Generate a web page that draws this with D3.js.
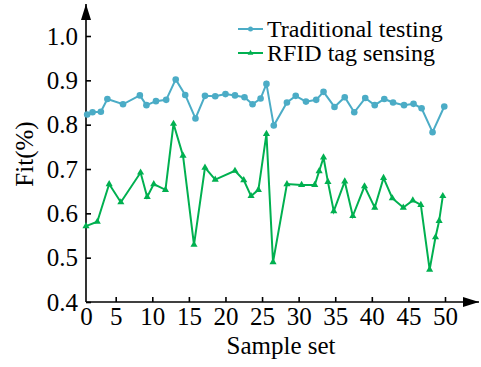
<!DOCTYPE html>
<html>
<head>
<meta charset="utf-8">
<script src="https://cdn.jsdelivr.net/npm/d3@7"></script>
<style>
    body { margin: 0; background: #fff; }
    .axis line { stroke: #000; stroke-width: 1.6; }
</style>
</head>
<body>
<svg id="chart" width="481" height="367"></svg>
<script>
// sample positions and fit values
let tradX = [0.2, 1.1, 2.5, 3.6, 6.0, 8.3, 9.2, 10.5, 11.9, 13.2, 14.5, 15.9, 17.2, 18.6, 20.0, 21.3, 22.6,
    23.7, 24.8, 25.6, 26.6, 28.4, 29.6, 31.0, 32.4, 33.4, 34.9, 36.3, 37.6, 39.1, 40.4, 41.7, 42.9, 44.4,
    45.7, 46.8, 48.3, 49.9]
let tradY = [0.823, 0.828, 0.829, 0.858, 0.846, 0.866, 0.844, 0.853, 0.856, 0.902, 0.867, 0.814, 0.865,
    0.864, 0.869, 0.866, 0.862, 0.846, 0.859, 0.892, 0.798, 0.850, 0.865, 0.852, 0.856, 0.874, 0.840,
    0.862, 0.828, 0.860, 0.844, 0.858, 0.850, 0.844, 0.847, 0.837, 0.783, 0.841]

let rfidX = [0, 1.9, 3.9, 5.7, 8.4, 9.3, 10.2, 11.8, 12.9, 14.2, 15.7, 17.2, 18.6, 21.3, 22.5, 23.5, 24.5,
    25.6, 26.5, 28.4, 30.4, 32.2, 32.8, 33.4, 34.0, 34.8, 36.3, 37.4, 39.0, 40.4, 41.6, 42.8, 44.3,
    45.6, 46.7, 47.9, 48.7, 49.2, 49.7]
let rfidY = [0.571, 0.581, 0.666, 0.625, 0.692, 0.637, 0.666, 0.653, 0.802, 0.730, 0.529, 0.703, 0.676,
    0.696, 0.675, 0.639, 0.653, 0.779, 0.490, 0.666, 0.664, 0.664, 0.695, 0.726, 0.671, 0.605, 0.672,
    0.594, 0.661, 0.613, 0.680, 0.634, 0.613, 0.629, 0.619, 0.473, 0.546, 0.583, 0.639]

let xTicks = [0, 5, 10, 15, 20, 25, 30, 35, 40, 45, 50]
let yTicks = [0.4, 0.5, 0.6, 0.7, 0.8, 0.9, 1.0]
let seriesNames = ["Traditional testing", "RFID tag sensing"]

let blue = "#4bacc6"
let green = "#00b050"
let serif = "'Liberation Serif', 'Times New Roman', Times, serif"

let svg = d3.select("#chart")

// the first gap (0-5) is narrower than the others in the original
let x = d3.scaleLinear().domain([0, 5, 50]).range([86, 115.7, 445])
let y = d3.scaleLinear().domain([0.4, 1.0]).range([302, 36])

svg.append("defs").append("marker")
    .attr("id", "arrow")
    .attr("viewBox", "0 0 10 10")
    .attr("refX", 10).attr("refY", 5)
    .attr("markerWidth", 16).attr("markerHeight", 10)
    .attr("markerUnits", "userSpaceOnUse")
    .attr("orient", "auto")
    .attr("preserveAspectRatio", "none")
    .append("path")
    .attr("d", "M0,0 L10,5 L0,10 Z")
    .attr("fill", "#000")

// y axis
let yAxis = svg.append("g")
    .attr("class", "axis")
    .attr("transform", `translate(${x(0)},0)`)
    .call(d3.axisLeft(y).tickValues(yTicks).tickFormat(d3.format(".1f"))
        .tickSize(-5).tickSizeOuter(0).tickPadding(8))
yAxis.select(".domain").remove()
yAxis.selectAll("text")
    .style("font-family", serif).style("font-size", "25px").attr("fill", "#000")

// x axis
let xAxis = svg.append("g")
    .attr("class", "axis")
    .attr("transform", `translate(0,${y(0.4)})`)
    .call(d3.axisBottom(x).tickValues(xTicks)
        .tickSize(-5).tickSizeOuter(0).tickPadding(5))
xAxis.select(".domain").remove()
xAxis.selectAll("text")
    .style("font-family", serif).style("font-size", "25px").attr("fill", "#000")
xAxis.selectAll(".tick").filter(d => d === 0).select("line").remove()

// axis lines with arrow heads
svg.append("line")
    .attr("x1", x(0)).attr("y1", y(0.4))
    .attr("x2", x(0)).attr("y2", 4)
    .attr("stroke", "#000").attr("stroke-width", 1.6)
    .attr("marker-end", "url(#arrow)")
svg.append("line")
    .attr("x1", x(0)).attr("y1", y(0.4))
    .attr("x2", 479).attr("y2", y(0.4))
    .attr("stroke", "#000").attr("stroke-width", 1.6)
    .attr("marker-end", "url(#arrow)")

// axis titles
svg.append("text")
    .attr("x", 281).attr("y", 354)
    .attr("text-anchor", "middle")
    .style("font-family", serif).style("font-size", "25px")
    .text("Sample set")

svg.append("text")
    .attr("transform", "translate(33,154) rotate(-90)")
    .attr("text-anchor", "middle")
    .style("font-family", serif).style("font-size", "25px")
    .text("Fit(%)")

let line = d3.line().x(d => x(d[0])).y(d => y(d[1]))
let tradData = d3.zip(tradX, tradY)
let rfidData = d3.zip(rfidX, rfidY)

// traditional testing
svg.append("path")
    .datum(tradData)
    .attr("d", line)
    .attr("fill", "none")
    .attr("stroke", blue)
    .attr("stroke-width", 2)
svg.append("g").selectAll("circle")
    .data(tradData)
    .enter()
    .append("circle")
    .attr("cx", d => x(d[0]))
    .attr("cy", d => y(d[1]))
    .attr("r", 3.3)
    .attr("fill", blue)

// rfid tag sensing
let tri = d3.symbol().type(d3.symbolTriangle).size(22)
svg.append("path")
    .datum(rfidData)
    .attr("d", line)
    .attr("fill", "none")
    .attr("stroke", green)
    .attr("stroke-width", 2)
svg.append("g").selectAll("path")
    .data(rfidData)
    .enter()
    .append("path")
    .attr("d", tri)
    .attr("transform", d => `translate(${x(d[0])},${y(d[1])})`)
    .attr("fill", green)

// legend
let legend = svg.append("g").attr("transform", "translate(238,29)")
let items = legend.selectAll("g")
    .data(seriesNames)
    .enter()
    .append("g")
    .attr("transform", (d, i) => `translate(0,${i * 24})`)
items.append("line")
    .attr("x1", 0).attr("x2", 25)
    .attr("stroke", (d, i) => i === 0 ? blue : green)
    .attr("stroke-width", 2)
items.filter((d, i) => i === 0).append("circle")
    .attr("cx", 12.5).attr("r", 2.5).attr("fill", blue)
items.filter((d, i) => i === 1).append("path")
    .attr("d", d3.symbol().type(d3.symbolTriangle).size(14))
    .attr("transform", "translate(12.5,0)")
    .attr("fill", green)
items.append("text")
    .attr("x", 29).attr("y", 0)
    .attr("dy", "0.33em")
    .style("font-family", serif).style("font-size", "24px")
    .text(d => d)
</script>
</body>
</html>
